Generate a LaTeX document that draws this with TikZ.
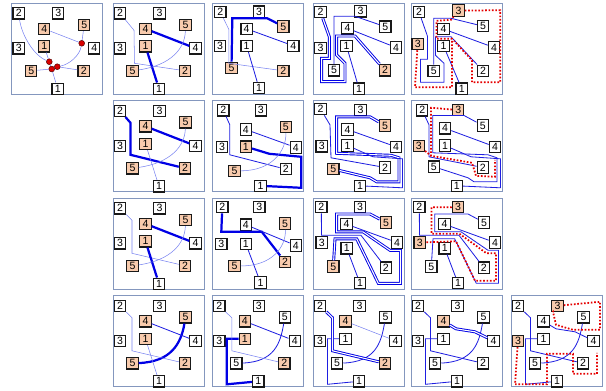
\documentclass[tikz,border=0pt]{standalone}
\usepackage{fontspec}
\setmainfont{Liberation Sans}
\usetikzlibrary{positioning}

\definecolor{cellfill}{RGB}{248,203,173}
\definecolor{framecol}{RGB}{132,151,190}
\definecolor{faintblue}{RGB}{120,130,240}
\definecolor{wireblue}{RGB}{30,30,225}

\tikzset{
  pin/.style={draw=black!90, fill=white, line width=1pt, minimum size=0.34cm, inner sep=0pt, font=\fontsize{9}{9}\selectfont},
  panel/.style={draw=framecol, line width=0.8pt},
  faint/.style={draw=faintblue, line width=0.45pt},
  wire/.style={draw=wireblue, line width=0.7pt},
  bus/.style={draw=blue!90!black, line width=1.9pt},
  busdbl/.style={draw=blue!90!black, double=white, double distance=0.9pt, line width=0.8pt},
  ripped/.style={draw=red!90!black, line width=1.5pt, dash pattern=on 1.4pt off 1.5pt},
  knot/.style={circle, fill=red!85!black, draw=red!30!black, line width=0.4pt, inner sep=0pt, minimum size=5pt}
}

% one panel of terminals: name/x/y/label/fill
\newcommand{\tiles}[2]{\foreach \nm/\px/\py/\lbl/\sty in #2 {\node[pin, fill=\sty] (#1\nm) at (\px,\py) {\lbl};}}
\newcommand{\baselist}{t2/7/10/2/white, t3/46.5/10/3/white, c4/32.5/25.5/4/cellfill, c5/72.5/21.5/5/cellfill, l3/7/45/3/white, c1/32.5/43/1/cellfill, r4/82.5/45/4/white, d5/19.5/67.5/5/cellfill, d2/72/67.5/2/cellfill, b1/46/85.5/1/white}

\begin{document}
\begin{tikzpicture}[x=0.03cm, y=-0.03cm]
\useasboundingbox (0,0) rectangle (606,391);

% Row 1
\begin{scope}[shift={(11.7,3.3)}]
  \draw[panel] (0,0) rectangle (91,91);
  \tiles{A0}{\baselist}
  \node[knot] (A0k1) at (70,40) {};
  \node[knot] (A0k2) at (37.6,58.4) {};
  \node[knot] (A0k3) at (40,65.7) {};
  \node[knot] (A0k4) at (45.6,63.4) {};
  \draw[faint] (A0t2) .. controls (10,32) and (22,52) .. (A0k2);
  \draw[faint] (A0c4) -- (A0k1);
  \draw[faint] (A0c5) -- (A0k1);
  \draw[faint] (A0k1) .. controls (68,52) and (58,61) .. (A0k4);
  \draw[faint] (A0c1) -- (A0k2);
  \draw[faint] (A0d5) -- (A0k3);
  \draw[faint] (A0k4) -- (A0d2);
  \draw[faint] (A0k3) -- (A0b1);
  \draw[faint] (A0k2) -- (A0k3) -- (A0k4);
\end{scope}

\begin{scope}[shift={(113,3.3)}]
  \draw[panel] (0,0) rectangle (91,91);
  \tiles{A1}{\baselist}
  \draw[faint] (A1t2) -- (21,27) -- (21.5,60) -- (A1d2);
  \draw[bus] (A1c4) -- (A1r4);
  \draw[bus] (A1c1) -- (A1b1);
  \draw[faint] (A1d5) .. controls (58,62) and (72,45) .. (A1c5);
\end{scope}

\begin{scope}[shift={(212.3,3.3)}]
  \draw[panel] (0,0) rectangle (91,91);
  \tiles{A2}{{t2/8/8.7/2/white, t3/46.7/8.4/3/white, c4/34.3/25.5/4/white, c5/71/23.2/5/cellfill, l3/7.7/42.7/3/white, c1/34.3/42.5/1/white, r4/81/42.5/4/white, d5/19.2/64.5/5/cellfill, d2/71/67.5/2/cellfill, b1/46.7/84.7/1/white}}
  \draw[faint] (A2t2) -- (16.5,26) -- (16.5,60) -- (A2d2);
  \draw[bus] (A2d5) -- (20,15) -- (55,15) -- (A2c5);
  \draw[wire] (A2c4) -- (A2r4);
  \draw[wire] (A2c1) -- (A2b1);
\end{scope}

\begin{scope}[shift={(313,3.3)}]
  \draw[panel] (0,0) rectangle (91,91);
  \tiles{A3}{{t2/7.5/8.7/2/white, t3/47.5/8/3/white, c4/34.5/25/4/white, c5/72.3/23.4/5/white, l3/7.5/44.7/3/white, c1/33.5/42.5/1/white, r4/83/44.2/4/white, d5/21/67/5/white, d2/72/67/2/cellfill, b1/46/85.4/1/white}}
  \draw[busdbl] (A3t2) -- (16.3,33.4) -- (16.3,55) -- (8.7,55) -- (8.7,78.4) -- (32,78.4) -- (32,60) -- (23.7,51.7) -- (23.7,32.7) -- (42,32.7) -- (A3d2);
  \draw[wire] (A3c5) -- (42,13) -- (21,13) -- (A3d5);
  \draw[wire] (A3c4) -- (A3r4);
  \draw[wire] (A3c1) -- (A3b1);
\end{scope}

\begin{scope}[shift={(411,3.3)}]
  \draw[panel] (0,0) rectangle (91,91);
  \tiles{A4}{{t2/8/8.7/2/white, t3/47.5/7.2/3/cellfill, c4/32.5/25.7/4/white, c5/72/22.9/5/white, l3/6.7/40.7/3/cellfill, c1/32.5/42.5/1/white, r4/83/44.2/4/white, d5/22.7/67.5/5/white, d2/72/67.5/2/white, b1/50.7/85.4/1/white}}
  \draw[wire] (A4t2) -- (16.5,33) -- (16.5,56) -- (9.5,56) -- (9.5,79) -- (33,79) -- (33,60) -- (24.5,52) -- (24.5,33.5) -- (40,33.5) -- (A4d2);
  \draw[wire] (A4c5) -- (40,15) -- (22.7,15) -- (A4d5);
  \draw[wire] (A4c4) -- (A4r4);
  \draw[wire] (A4c1) -- (A4b1);
  \draw[ripped] (A4l3) -- (4,84) -- (41,84) -- (41,35.5) -- (25.5,35.5) -- (25.5,17.5) -- (40,16.5) -- (A4t3);
  \draw[ripped] (A4t3) -- (89.3,7) -- (89.3,79) -- (61,79) -- (61,57) -- (43,37.5);
\end{scope}

% Row 2
\begin{scope}[shift={(113,100.8)}]
  \draw[panel] (0,0) rectangle (91,91);
  \tiles{B1}{\baselist}
  \draw[bus] (B1t2) -- (17.5,22) -- (17.5,54) -- (B1d2);
  \draw[bus] (B1c4) -- (B1r4);
  \draw[faint] (B1c1) -- (B1b1);
  \draw[faint] (B1d5) .. controls (58,62) and (72,45) .. (B1c5);
\end{scope}

\begin{scope}[shift={(212.3,100.8)}]
  \draw[panel] (0,0) rectangle (91,91);
  \tiles{B2}{{t2/11/9.5/2/white, t3/48.5/9.5/3/white, c4/33.5/28.7/4/white, c5/73.5/26/5/cellfill, l3/9.7/46/3/white, c1/33.5/45.8/1/cellfill, r4/83.5/46.7/4/white, d5/22.2/70/5/cellfill, d2/73.5/68.4/2/white, b1/48.2/85/1/white}}
  \draw[bus] (B2c1) -- (57,53) -- (89,56) -- (89,87) -- (B2b1);
  \draw[wire] (B2c4) -- (B2r4);
  \draw[wire] (B2t2) -- (17.5,24) -- (17.5,54) -- (B2d2);
  \draw[faint] (B2d5) .. controls (60,70) and (74,50) .. (B2c5);
\end{scope}

\begin{scope}[shift={(313,100.8)}]
  \draw[panel] (0,0) rectangle (91,91);
  \tiles{B3}{{t2/7.5/8.2/2/white, t3/47.5/9/3/white, c4/34.5/28.7/4/white, c5/72/24.7/5/cellfill, l3/8.7/45.5/3/white, c1/34.5/44.7/1/white, r4/83/46/4/white, d5/20.3/68.2/5/cellfill, d2/72/66.7/2/white, b1/47/85/1/white}}
  \draw[busdbl] (B3c5) -- (57,16) -- (23.7,16) -- (23.7,52.5) -- (78,54.5) -- (86,57) -- (86,81) -- (63.7,81) -- (57,77) -- (B3d5);
  \draw[wire] (B3c1) -- (60,56) -- (89.5,58) -- (89.5,87) -- (B3b1);
  \draw[wire] (B3c4) -- (B3r4);
  \draw[wire] (B3t2) -- (17,24) -- (18,57) -- (B3d2);
\end{scope}

\begin{scope}[shift={(411,100.8)}]
  \draw[panel] (0,0) rectangle (91,91);
  \tiles{B4}{{t2/11.2/9.5/2/white, t3/47.2/9.2/3/cellfill, c4/34/27.5/4/white, c5/71.8/24.7/5/white, l3/7.8/45/3/cellfill, c1/34/44.7/1/white, r4/84/46/4/white, d5/22.8/65.9/5/white, d2/71.8/66.7/2/white, b1/45.8/85/1/white}}
  \draw[wire] (B4c5) -- (53,14.7) -- (21.7,14.7) -- (21.7,52) -- (77,54) -- (86,57) -- (86,81) -- (63,81) -- (57,77) -- (B4d5);
  \draw[wire] (B4c1) -- (60,56) -- (89.5,58) -- (89.5,87) -- (B4b1);
  \draw[wire] (B4c4) -- (B4r4);
  \draw[wire] (B4t2) -- (18,24) -- (18,56) -- (B4d2);
  \draw[ripped] (B4t3) -- (20,7) -- (20,55) -- (61,62) -- (65,75) -- (84,76) -- (84,59);
  \draw[ripped] (B4l3) -- (20,55);
\end{scope}

% Row 3
\begin{scope}[shift={(113,198.3)}]
  \draw[panel] (0,0) rectangle (91,91);
  \tiles{C1}{\baselist}
  \draw[faint] (C1t2) -- (19,22) -- (19,55) -- (C1d2);
  \draw[bus] (C1c4) -- (C1r4);
  \draw[bus] (C1c1) -- (C1b1);
  \draw[faint] (C1d5) .. controls (58,62) and (72,45) .. (C1c5);
\end{scope}

\begin{scope}[shift={(212.3,198.3)}]
  \draw[panel] (0,0) rectangle (91,91);
  \tiles{C2}{{t2/10/8.9/2/white, t3/47/8.9/3/white, c4/33.5/26.4/4/white, c5/72.7/25.2/5/cellfill, l3/9/45.5/3/white, c1/33.5/45.5/1/white, r4/83.5/47.2/4/white, d5/22.2/67.5/5/cellfill, d2/72.7/63.5/2/cellfill, b1/48.2/84.2/1/white}}
  \draw[bus] (C2t2) -- (9,33.5) -- (49.5,33.5) -- (C2d2);
  \draw[wire] (C2c4) -- (C2r4);
  \draw[wire] (C2c1) -- (C2b1);
  \draw[faint] (C2d5) .. controls (60,68) and (74,48) .. (C2c5);
\end{scope}

\begin{scope}[shift={(313,198.3)}]
  \draw[panel] (0,0) rectangle (91,91);
  \tiles{C3}{{t2/8.3/8.9/2/white, t3/47/8.9/3/white, c4/33.5/25.9/4/white, c5/73/24.2/5/cellfill, l3/8.7/44.2/3/white, c1/33.7/50/1/white, r4/84/44.2/4/white, d5/20.3/68.2/5/cellfill, d2/72.8/69.4/2/white, b1/47/84.9/1/white}}
  \draw[busdbl] (C3c5) -- (57,15.7) -- (23.7,15.7) -- (23.7,33.5) -- (50,33.5) -- (77,52) -- (87.5,52) -- (87.5,85) -- (65.3,85) -- (43.7,40.5) -- (22,40.5) -- (C3d5);
  \draw[wire] (C3c4) -- (C3r4);
  \draw[wire] (C3t2) -- (8.5,37) -- (48,37) -- (C3d2);
  \draw[wire] (C3c1) -- (C3b1);
\end{scope}

\begin{scope}[shift={(411,198.3)}]
  \draw[panel] (0,0) rectangle (91,91);
  \tiles{C4}{{t2/8.3/8.9/2/white, t3/47/8.9/3/cellfill, c4/33.5/25.9/4/white, c5/73/24.2/5/white, l3/8.7/44.2/3/cellfill, c1/33.7/50/1/white, r4/84/44.2/4/white, d5/20.3/68.2/5/white, d2/72.8/69.4/2/white, b1/47/84.9/1/white}}
  \draw[wire] (C4c5) -- (57,15.7) -- (23.7,15.7) -- (23.7,33.5) -- (50,33.5) -- (77,52) -- (87.5,52) -- (87.5,85) -- (65.3,85) -- (43.7,40.5) -- (22,40.5) -- (C4d5);
  \draw[wire] (C4c4) -- (C4r4);
  \draw[wire] (C4t2) -- (8.5,37) -- (48,37) -- (C4d2);
  \draw[wire] (C4c1) -- (C4b1);
  \draw[ripped] (C4t3) -- (20.5,9) -- (20.5,35.5) -- (48.5,35.5) -- (75.5,55) -- (85,55) -- (85,82.5) -- (64,82.5) -- (45,43) -- (C4l3);
\end{scope}

% Row 4
\begin{scope}[shift={(113,295.8)}]
  \draw[panel] (0,0) rectangle (91,91);
  \tiles{D1}{\baselist}
  \draw[bus] (D1c5) .. controls (68,48) and (58,66) .. (D1d5);
  \draw[wire] (D1c4) -- (D1r4);
  \draw[faint] (D1c1) -- (D1b1);
  \draw[faint] (D1t2) -- (19,22) -- (19,55) -- (D1d2);
\end{scope}

\begin{scope}[shift={(212.3,295.8)}]
  \draw[panel] (0,0) rectangle (91,91);
  \tiles{D2}{{t2/7/10/2/white, t3/46.5/10/3/white, c4/32.5/25.5/4/cellfill, c5/72.5/21.5/5/white, l3/7/45/3/white, c1/32.5/43/1/cellfill, r4/82.5/45/4/white, d5/24/67.5/5/white, d2/72/67.5/2/cellfill, b1/46/85.5/1/white}}
  \draw[wire] (D2c5) .. controls (68,48) and (62,66) .. (D2d5);
  \draw[bus] (D2c1) -- (14.5,43) -- (14.5,88.5) -- (D2b1);
  \draw[wire] (D2c4) -- (D2r4);
  \draw[faint] (D2t2) -- (19.5,22) -- (19.5,55) -- (D2d2);
\end{scope}

\begin{scope}[shift={(313,295.8)}]
  \draw[panel] (0,0) rectangle (91,91);
  \tiles{D3}{{t2/7/10/2/white, t3/46.5/10/3/white, c4/32.5/25.5/4/cellfill, c5/72.5/21.5/5/white, l3/7/45/3/white, c1/32.5/43/1/white, r4/82.5/45/4/white, d5/24/67.5/5/white, d2/72/67.5/2/cellfill, b1/46/85.5/1/white}}
  \draw[wire] (D3c5) .. controls (68,48) and (62,66) .. (D3d5);
  \draw[wire] (D3c1) -- (14.5,43) -- (14.5,88.5) -- (D3b1);
  \draw[busdbl] (D3t2) -- (19.5,22) -- (19.5,55) -- (D3d2);
  \draw[faint] (D3c4) -- (D3r4);
\end{scope}

\begin{scope}[shift={(411,295.8)}]
  \draw[panel] (0,0) rectangle (91,91);
  \tiles{D4}{{t2/7/10/2/white, t3/46.5/10/3/white, c4/32.5/25.5/4/cellfill, c5/72.5/21.5/5/white, l3/7/45/3/white, c1/32.5/43/1/white, r4/82.5/45/4/white, d5/24/67.5/5/white, d2/72/67.5/2/white, b1/46/85.5/1/white}}
  \draw[wire] (D4c5) .. controls (68,48) and (62,66) .. (D4d5);
  \draw[wire] (D4c1) -- (14.5,43) -- (14.5,88.5) -- (D4b1);
  \draw[wire] (D4t2) -- (19.5,22) -- (19.5,55) -- (D4d2);
  \draw[busdbl] (D4c4) -- (45,33) -- (64,36) -- (D4r4);
\end{scope}

\begin{scope}[shift={(511,295.8)}]
  \draw[panel] (0,0) rectangle (91,91);
  \tiles{D5}{{t2/7/10/2/white, t3/46.5/10/3/cellfill, c4/32.5/25.5/4/white, c5/72.5/21.5/5/white, l3/7/45/3/cellfill, c1/32.5/43/1/white, r4/82.5/45/4/white, d5/24/67.5/5/white, d2/72/67.5/2/white, b1/46/85.5/1/white}}
  \draw[wire] (D5c5) .. controls (68,48) and (62,66) .. (D5d5);
  \draw[wire] (D5c1) -- (14.5,43) -- (14.5,88.5) -- (D5b1);
  \draw[wire] (D5t2) -- (19.5,22) -- (19.5,55) -- (D5d2);
  \draw[wire] (D5c4) -- (45,33) -- (64,36) -- (D5r4);
  \draw[ripped] (D5t3) -- (89,6) -- (89,34) -- (62,34) -- (45,29) -- (42,16) -- (D5t3);
  \draw[ripped] (D5l3) -- (4,88.5) -- (36,88.5) -- (36,58) -- (62,58) -- (62,78) -- (86,78) -- (86,57);
\end{scope}
\end{tikzpicture}
\end{document}
